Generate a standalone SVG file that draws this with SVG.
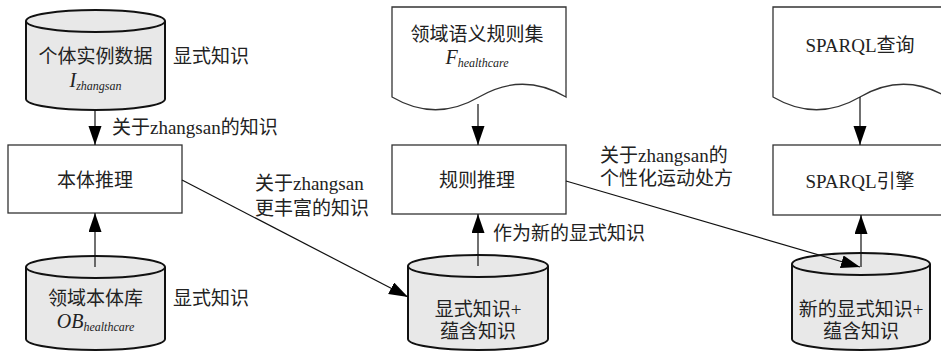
<svg xmlns="http://www.w3.org/2000/svg" width="941" height="353" viewBox="0 0 941 353">
<style>
.t{font-family:"Liberation Serif","Noto Sans CJK SC",serif;font-size:19px;fill:#222}
.m{text-anchor:middle}
.it{font-style:italic}
.sub{font-size:12px;font-style:italic}
.box{fill:#fff;stroke:#333;stroke-width:1.3}
.cyl{fill:#e8e8e8;stroke:#111;stroke-width:2}
.doc{fill:#fff;stroke:#333;stroke-width:1.3}
.ln{fill:none;stroke:#111;stroke-width:1.2}
</style>
<defs>
<marker id="ah" markerUnits="userSpaceOnUse" markerWidth="20" markerHeight="14" refX="19" refY="6.5" orient="auto">
<path d="M0,0 L19,6.5 L0,13 z" fill="#000"/>
</marker>
</defs>
<rect width="941" height="353" fill="#fff"/>

<g id="cyl-instance">
<path class="cyl" d="M26,21 V99 A69.5,11 0 0 0 165,99 V21"/>
<ellipse class="cyl" cx="95.5" cy="21" rx="69.5" ry="11"/>
<text class="t m" x="95.5" y="63">个体实例数据</text>
<text class="t m" x="95.5" y="87"><tspan class="it" font-size="20">I</tspan><tspan class="sub" dy="3">zhangsan</tspan></text>
<text class="t" x="173" y="63">显式知识</text>
</g>

<g id="box-ontology">
<rect class="box" x="8" y="145" width="174" height="68"/>
<text class="t m" x="95" y="187">本体推理</text>
</g>

<g id="cyl-ontology">
<path class="cyl" d="M26,267 V339 A69.5,11 0 0 0 165,339 V267"/>
<ellipse class="cyl" cx="95.5" cy="267" rx="69.5" ry="11"/>
<text class="t m" x="95.5" y="305">领域本体库</text>
<text class="t m" x="95.5" y="328"><tspan class="it" font-size="20">OB</tspan><tspan class="sub" dy="3">healthcare</tspan></text>
<text class="t" x="173" y="305">显式知识</text>
</g>

<g id="doc-rules">
<path class="doc" d="M392,7 H566 V97 C537,80 508,80 479,97 C450,114 421,114 392,97 Z"/>
<text class="t m" x="477" y="41">领域语义规则集</text>
<text class="t m" x="477" y="64"><tspan class="it" font-size="20">F</tspan><tspan class="sub" dy="3">healthcare</tspan></text>
</g>

<g id="box-rules">
<rect class="box" x="392" y="145" width="174" height="69"/>
<text class="t m" x="477" y="187">规则推理</text>
</g>

<g id="cyl-knowledge">
<path class="cyl" d="M408,266 V339 A70,11 0 0 0 548,339 V266"/>
<ellipse class="cyl" cx="478" cy="266" rx="70" ry="11"/>
<text class="t m" x="478" y="316">显式知识+</text>
<text class="t m" x="478" y="338">蕴含知识</text>
</g>

<g id="doc-sparql">
<path class="doc" d="M773,7 H947 V97 C918,80 889,80 860,97 C831,114 802,114 773,97 Z"/>
<text class="t m" x="860" y="52">SPARQL查询</text>
</g>

<g id="box-sparql">
<rect class="box" x="773" y="145" width="174" height="70"/>
<text class="t m" x="860" y="188">SPARQL引擎</text>
</g>

<g id="cyl-new">
<path class="cyl" d="M792,264 V339 A69,11 0 0 0 930,339 V264"/>
<ellipse class="cyl" cx="861" cy="264" rx="69" ry="11"/>
<text class="t m" x="861" y="316">新的显式知识+</text>
<text class="t m" x="861" y="338">蕴含知识</text>
</g>

<g id="connectors">
<line class="ln" x1="95" y1="110" x2="95" y2="145" marker-end="url(#ah)"/>
<line class="ln" x1="95" y1="267" x2="95" y2="213" marker-end="url(#ah)"/>
<line class="ln" x1="478" y1="104" x2="478" y2="145" marker-end="url(#ah)"/>
<line class="ln" x1="478" y1="266" x2="478" y2="214" marker-end="url(#ah)"/>
<line class="ln" x1="860" y1="97" x2="860" y2="145" marker-end="url(#ah)"/>
<line class="ln" x1="861" y1="267" x2="861" y2="215" marker-end="url(#ah)"/>
<line class="ln" x1="182" y1="180" x2="408" y2="297" marker-end="url(#ah)"/>
<line class="ln" x1="566" y1="181" x2="860" y2="267" marker-end="url(#ah)"/>
<text class="t" x="112" y="134">关于zhangsan的知识</text>
<text class="t" x="255" y="190">关于zhangsan</text>
<text class="t" x="255" y="215">更丰富的知识</text>
<text class="t" x="493" y="240">作为新的显式知识</text>
<text class="t" x="600" y="162">关于zhangsan的</text>
<text class="t" x="600" y="185">个性化运动处方</text>
</g>
</svg>
